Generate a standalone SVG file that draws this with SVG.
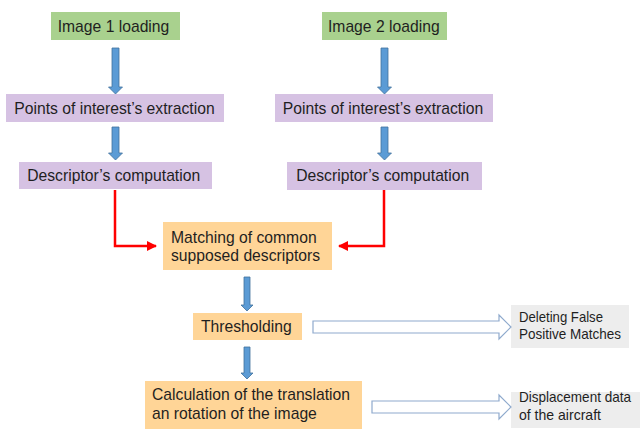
<svg xmlns="http://www.w3.org/2000/svg" width="640" height="430" viewBox="0 0 640 430">
<defs>
<style>
.t{font-family:"Liberation Sans",Arial,sans-serif;font-size:15.7px;fill:#1f1f1f}
.sm{font-size:14.5px}
.c{text-anchor:middle}
.g{fill:#A9D18E}
.p{fill:#D6C2E3}
.o{fill:#FFD597}
.s{fill:#EDEDED}
.ba{fill:#5B9BD5;stroke:#41719C;stroke-width:0.8}
.ha{fill:#fff;stroke:#8FAACD;stroke-width:1.2}
.red{fill:none;stroke:#FF0000;stroke-width:2.5}
</style>
<marker id="rh" viewBox="0 0 10 10" refX="9" refY="5" markerWidth="4" markerHeight="4" orient="auto" markerUnits="strokeWidth">
<path d="M0,0 L10,5 L0,10 Z" fill="#FF0000"/>
</marker>
</defs>
<rect width="640" height="430" fill="#fff"/>

<g id="img1"><rect class="g" x="51" y="12" width="129" height="28"/><text class="t c" x="113.5" y="32">Image 1 loading</text></g>
<g id="img2"><rect class="g" x="322" y="12" width="125" height="28"/><text class="t c" x="383.8" y="32">Image 2 loading</text></g>
<g id="poi1"><rect class="p" x="6" y="94" width="218" height="28"/><text class="t c" x="114.5" y="113.5">Points of interest’s extraction</text></g>
<g id="poi2"><rect class="p" x="275" y="94" width="218" height="28"/><text class="t c" x="383" y="113.5">Points of interest’s extraction</text></g>
<g id="desc1"><rect class="p" x="19" y="162" width="193" height="27"/><text class="t c" x="113.7" y="181">Descriptor’s computation</text></g>
<g id="desc2"><rect class="p" x="287" y="162" width="195" height="28"/><text class="t c" x="382.7" y="181">Descriptor’s computation</text></g>
<g id="match"><rect class="o" x="163" y="222" width="169" height="48"/><text class="t" x="171" y="243">Matching of common</text><text class="t" x="171" y="261">supposed descriptors</text></g>
<g id="thresh"><rect class="o" x="193" y="313" width="109" height="27"/><text class="t" x="201" y="332">Thresholding</text></g>
<g id="calc"><rect class="o" x="145" y="381" width="217" height="48"/><text class="t" x="152" y="400">Calculation of the translation</text><text class="t" x="152" y="419">an rotation of the image</text></g>
<g id="del"><rect class="s" x="511" y="305" width="118" height="43"/><text class="t sm" x="519" y="321.5" textLength="84" lengthAdjust="spacingAndGlyphs">Deleting False</text><text class="t sm" x="519" y="338.5" textLength="102" lengthAdjust="spacingAndGlyphs">Positive Matches</text></g>
<g id="disp"><rect class="s" x="511" y="392" width="129" height="36"/><text class="t sm" x="519" y="402" textLength="112" lengthAdjust="spacingAndGlyphs">Displacement data</text><text class="t sm" x="519" y="419.5" textLength="82" lengthAdjust="spacingAndGlyphs">of the aircraft</text></g>

<g id="connectors">
<path class="ba" d="M112,48 H119 V87 H122.5 L115.5,94 L108.5,87 H112 Z"/>
<path class="ba" d="M112,127 H119 V153 H122.5 L115.5,160 L108.5,153 H112 Z"/>
<path class="ba" d="M381,48 H388 V87 H391.5 L384.5,94 L377.5,87 H381 Z"/>
<path class="ba" d="M381,127 H388 V153 H391.5 L384.5,160 L377.5,153 H381 Z"/>
<path class="ba" d="M244,277 H250 V305 H253 L247,311 L241,305 H244 Z"/>
<path class="ba" d="M244,347 H250 V373 H253 L247,379 L241,373 H244 Z"/>
<path class="red" d="M115,190 V246 H156" marker-end="url(#rh)"/>
<path class="red" d="M384,190 V246 H339" marker-end="url(#rh)"/>
<path class="ha" d="M313,321 H499 V315 L511,327 L499,339 V333 H313 Z"/>
<path class="ha" d="M372,401 H499 V395 L511,407 L499,419 V413 H372 Z"/>
</g>
</svg>
